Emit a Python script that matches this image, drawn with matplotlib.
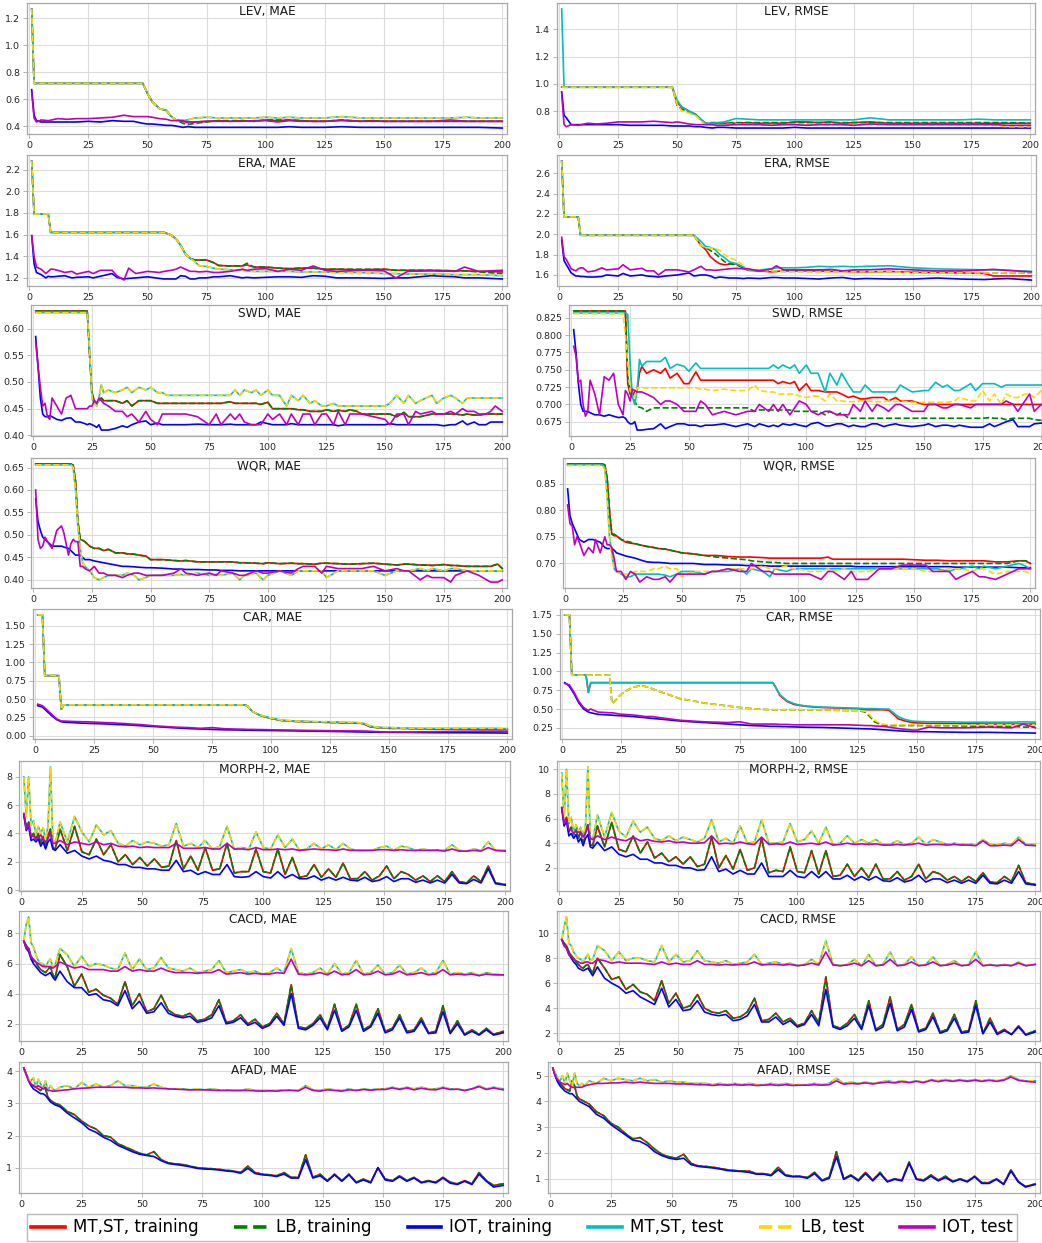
import matplotlib
matplotlib.use("Agg")
import matplotlib.pyplot as plt
from matplotlib.lines import Line2D
from matplotlib.ticker import MaxNLocator

lev_ep = [1, 2, 3, 5, 8, 12, 16, 20, 25, 30, 35, 40, 44, 48, 50, 52, 55, 58, 60, 62,
          65, 67, 70, 75, 80, 85, 90, 95, 100, 105, 110, 115, 120, 125, 132, 140, 145, 150, 160, 170,
          178, 185, 190, 200]
era_ep = [1, 2, 3, 5, 7, 8, 9, 10, 12, 15, 18, 20, 25, 27, 30, 35, 37, 40, 42, 45,
          50, 55, 57, 60, 62, 64, 66, 68, 70, 72, 75, 78, 80, 85, 90, 92, 95, 100, 105, 110,
          115, 120, 125, 130, 140, 150, 155, 160, 170, 180, 184, 190, 200]
swd_ep = [1, 2, 3, 4, 5, 6, 7, 8,
          10, 12, 14, 16, 18, 20, 22,
          23, 24, 25, 26, 27, 28, 29, 30,
          32, 35, 38, 40, 42, 45, 48, 50, 53, 55,
          57, 60, 65, 70, 75, 78, 80, 84, 86, 88,
          90, 93, 95, 97, 100, 102, 105, 108, 110, 113,
          115, 118, 120, 123, 125, 128, 130, 133, 135, 138,
          140, 145, 150, 152, 155, 158, 160, 163, 165, 170,
          172, 175, 178, 180, 183, 185, 188, 190, 193, 195,
          197, 200]
wqr_ep = [1, 2, 3, 4, 5, 6, 8, 10, 12, 13,
          15, 16, 17, 18, 19, 20, 21, 22, 24, 26,
          28, 30, 32, 35, 38, 40, 43, 45, 48, 50,
          55, 60, 63, 65, 70, 75, 78, 80, 85, 88,
          90, 95, 98, 100, 105, 110, 113, 115, 120, 123,
          125, 130, 135, 140, 145, 150, 155, 158, 160, 165,
          168, 170, 175, 178, 180, 185, 190, 195, 198, 200]
car_ep = [1, 2, 3, 4, 5, 7, 9, 10, 11, 12,
          15, 20, 21, 22, 25, 28, 30, 33, 35, 38,
          40, 45, 50, 55, 60, 65, 70, 75, 80, 85,
          88, 89, 90, 92, 95, 98, 100, 103, 105, 110,
          115, 120, 125, 128, 130, 132, 135, 138, 140, 142,
          145, 148, 150, 155, 160, 170, 180, 190, 195, 200]
face_ep = [1, 2, 3, 4, 5, 6, 7, 8, 9, 10, 11, 12, 13, 14,
           16, 19, 22, 25, 28, 31, 34, 37, 40, 43,
           46, 49, 52, 55, 58, 61, 64, 67, 70, 73,
           76, 79, 82, 85, 88, 91, 94, 97, 100, 103,
           106, 109, 112, 115, 118, 121, 124, 127, 130, 133,
           136, 139, 142, 145, 148, 151, 154, 157, 160, 163,
           166, 169, 172, 175, 178, 181, 184, 187, 190, 193,
           196, 200]

# ---------------- LEV ----------------
lev_mae_tr = [1.27, 0.717, 0.717, 0.717, 0.717, 0.717, 0.717, 0.717, 0.717, 0.717, 0.717, 0.717, 0.717, 0.717,
              0.64, 0.58, 0.53, 0.515, 0.47, 0.445,
              0.435, 0.425, 0.43, 0.435, 0.44, 0.435, 0.44, 0.435, 0.445, 0.44,
              0.445, 0.44, 0.435, 0.435, 0.445, 0.435, 0.44, 0.435, 0.435, 0.435,
              0.435, 0.435, 0.435, 0.435]
lev_mae_lb_tr = [1.27, 0.717, 0.717, 0.717, 0.717, 0.717, 0.717, 0.717, 0.717, 0.717, 0.717, 0.717, 0.717, 0.717,
                 0.64, 0.58, 0.53, 0.515, 0.47, 0.445,
                 0.42, 0.41, 0.42, 0.43, 0.44, 0.44, 0.44, 0.435, 0.445, 0.445,
                 0.445, 0.44, 0.435, 0.435, 0.445, 0.435, 0.44, 0.435, 0.435, 0.435,
                 0.435, 0.435, 0.435, 0.435]
lev_mae_te = [1.27, 0.717, 0.717, 0.717, 0.717, 0.717, 0.717, 0.717, 0.717, 0.717, 0.717, 0.717, 0.717, 0.717,
              0.64, 0.58, 0.53, 0.515, 0.47, 0.445,
              0.445, 0.445, 0.46, 0.465, 0.46, 0.46, 0.46, 0.46, 0.465, 0.46,
              0.465, 0.46, 0.46, 0.46, 0.47, 0.46, 0.46, 0.46, 0.46, 0.46,
              0.46, 0.465, 0.46, 0.46]
lev_mae_iot_tr = [0.67, 0.48, 0.44, 0.43, 0.43, 0.43, 0.43, 0.43, 0.435, 0.43,
                  0.44, 0.435, 0.435, 0.42, 0.415, 0.415, 0.41, 0.405, 0.405, 0.40,
                  0.39, 0.395, 0.39, 0.39, 0.39, 0.39, 0.39, 0.39, 0.39, 0.39,
                  0.395, 0.39, 0.39, 0.39, 0.395, 0.39, 0.39, 0.39, 0.39, 0.39,
                  0.39, 0.39, 0.39, 0.385]
lev_mae_iot_te = [0.65, 0.46, 0.43, 0.445, 0.44, 0.455, 0.45, 0.455, 0.455, 0.46,
                  0.465, 0.48, 0.47, 0.47, 0.47, 0.465, 0.455, 0.45, 0.44, 0.44,
                  0.44, 0.43, 0.43, 0.435, 0.435, 0.435, 0.435, 0.44, 0.44, 0.43,
                  0.44, 0.435, 0.435, 0.435, 0.44, 0.435, 0.435, 0.435, 0.435, 0.435,
                  0.445, 0.435, 0.435, 0.435]

lev_rmse_tr = [0.975, 0.975, 0.975, 0.975, 0.975, 0.975, 0.975, 0.975, 0.975, 0.975, 0.975, 0.975, 0.975, 0.975,
               0.86, 0.83, 0.80, 0.775, 0.74, 0.71,
               0.705, 0.71, 0.71, 0.71, 0.715, 0.71, 0.71, 0.71, 0.72, 0.72,
               0.715, 0.72, 0.71, 0.715, 0.72, 0.71, 0.71, 0.71, 0.71, 0.71,
               0.71, 0.71, 0.71, 0.71]
lev_rmse_lb_tr = [0.975, 0.975, 0.975, 0.975, 0.975, 0.975, 0.975, 0.975, 0.975, 0.975, 0.975, 0.975, 0.975, 0.975,
                  0.84, 0.815, 0.79, 0.77, 0.74, 0.71,
                  0.715, 0.715, 0.71, 0.715, 0.715, 0.715, 0.715, 0.715, 0.715, 0.715,
                  0.715, 0.715, 0.715, 0.715, 0.715, 0.715, 0.715, 0.715, 0.715, 0.715,
                  0.715, 0.715, 0.715, 0.71]
lev_rmse_te = [1.55, 0.975, 0.975, 0.975, 0.975, 0.975, 0.975, 0.975, 0.975, 0.975, 0.975, 0.975, 0.975, 0.975,
               0.88, 0.83, 0.80, 0.77, 0.74, 0.71,
               0.71, 0.715, 0.72, 0.745, 0.74, 0.735, 0.735, 0.735, 0.735, 0.735,
               0.735, 0.735, 0.735, 0.735, 0.75, 0.735, 0.735, 0.735, 0.735, 0.735,
               0.74, 0.735, 0.735, 0.735]
lev_rmse_lb_te = [0.975, 0.975, 0.975, 0.975, 0.975, 0.975, 0.975, 0.975, 0.975, 0.975, 0.975, 0.975, 0.975, 0.975,
                  0.85, 0.80, 0.785, 0.765, 0.73, 0.70,
                  0.70, 0.70, 0.70, 0.705, 0.70, 0.70, 0.70, 0.70, 0.70, 0.70,
                  0.70, 0.70, 0.70, 0.70, 0.70, 0.70, 0.70, 0.70, 0.70, 0.70,
                  0.70, 0.695, 0.685, 0.685]
lev_rmse_iot_tr = [0.94, 0.77, 0.75, 0.70, 0.70, 0.70, 0.70, 0.70, 0.70, 0.695,
                   0.695, 0.695, 0.695, 0.69, 0.69, 0.69, 0.69, 0.685, 0.685, 0.68,
                   0.675, 0.68, 0.68, 0.675, 0.675, 0.675, 0.675, 0.675, 0.68, 0.675,
                   0.675, 0.675, 0.675, 0.675, 0.675, 0.675, 0.675, 0.675, 0.675, 0.675,
                   0.675, 0.675, 0.675, 0.675]
lev_rmse_iot_te = [0.93, 0.70, 0.685, 0.70, 0.695, 0.71, 0.705, 0.71, 0.72, 0.72,
                   0.72, 0.725, 0.72, 0.715, 0.72, 0.715, 0.705, 0.70, 0.70, 0.70,
                   0.70, 0.695, 0.695, 0.70, 0.70, 0.70, 0.695, 0.70, 0.70, 0.695,
                   0.70, 0.70, 0.70, 0.695, 0.705, 0.70, 0.70, 0.70, 0.70, 0.70,
                   0.70, 0.70, 0.695, 0.695]

# ---------------- ERA ----------------
era_mae_tr = [2.28, 1.79, 1.79, 1.79, 1.79, 1.79, 1.62, 1.62, 1.62, 1.62,
              1.62, 1.62, 1.62, 1.62, 1.62, 1.62, 1.62, 1.62, 1.62, 1.62,
              1.62, 1.62, 1.62,
              1.595, 1.56, 1.50, 1.42, 1.38, 1.365, 1.365,
              1.365, 1.34, 1.315, 1.31, 1.31, 1.32, 1.30, 1.30, 1.29, 1.285,
              1.29, 1.29, 1.28, 1.28, 1.275, 1.28, 1.27, 1.27, 1.27, 1.265,
              1.265, 1.26, 1.255]
era_mae_lb_tr = [2.28, 1.79, 1.79, 1.79, 1.79, 1.79, 1.62, 1.62, 1.62, 1.62,
                 1.62, 1.62, 1.62, 1.62, 1.62, 1.62, 1.62, 1.62, 1.62, 1.62,
                 1.62, 1.62, 1.62,
                 1.595, 1.56, 1.50, 1.42, 1.38, 1.365, 1.365,
                 1.365, 1.34, 1.315, 1.31, 1.31, 1.335, 1.30, 1.30, 1.29, 1.285,
                 1.29, 1.29, 1.28, 1.28, 1.28, 1.28, 1.27, 1.27, 1.27, 1.265,
                 1.265, 1.255, 1.24]
era_mae_te = [2.28, 1.79, 1.79, 1.79, 1.79, 1.79, 1.62, 1.62, 1.62, 1.62,
              1.62, 1.62, 1.62, 1.62, 1.62, 1.62, 1.62, 1.62, 1.62, 1.62,
              1.62, 1.62, 1.62,
              1.595, 1.56, 1.50, 1.42, 1.38, 1.35, 1.31,
              1.305, 1.29, 1.28, 1.275, 1.27, 1.265, 1.26, 1.26, 1.26, 1.26,
              1.255, 1.255, 1.255, 1.25, 1.25, 1.24, 1.24, 1.235, 1.235, 1.23,
              1.23, 1.23, 1.22]
era_mae_iot_tr = [1.59, 1.33, 1.25, 1.23, 1.20, 1.215, 1.21, 1.21, 1.215, 1.22,
                  1.20, 1.205, 1.21, 1.20, 1.215, 1.24, 1.205, 1.19, 1.195, 1.20,
                  1.21, 1.195, 1.19,
                  1.19, 1.19, 1.22, 1.215, 1.19, 1.19, 1.20,
                  1.20, 1.21, 1.21, 1.22, 1.20, 1.205, 1.20, 1.205, 1.21, 1.21,
                  1.205, 1.22, 1.215, 1.20, 1.20, 1.195, 1.20, 1.20, 1.22, 1.21,
                  1.20, 1.20, 1.19]
era_mae_iot_te = [1.59, 1.40, 1.30, 1.28, 1.24, 1.26, 1.28, 1.28, 1.27, 1.25,
                  1.26, 1.235, 1.26, 1.24, 1.27, 1.27, 1.22, 1.18, 1.29, 1.24,
                  1.26, 1.25, 1.26,
                  1.27, 1.28, 1.30, 1.28, 1.26, 1.26, 1.255,
                  1.26, 1.25, 1.25, 1.26, 1.28, 1.27, 1.28, 1.285, 1.26, 1.28,
                  1.27, 1.31, 1.27, 1.26, 1.27, 1.265, 1.20, 1.26, 1.265, 1.26,
                  1.30, 1.26, 1.27]

era_rmse_tr = [2.72, 2.17, 2.17, 2.17, 2.17, 2.17, 1.99, 1.99, 1.99, 1.99,
               1.99, 1.99, 1.99, 1.99, 1.99, 1.99, 1.99, 1.99, 1.99, 1.99,
               1.99, 1.99, 1.99,
               1.89, 1.85, 1.78, 1.74, 1.71, 1.70, 1.705,
               1.71, 1.67, 1.645, 1.64, 1.63, 1.635, 1.64, 1.64, 1.64, 1.64,
               1.635, 1.635, 1.63, 1.63, 1.635, 1.625, 1.625, 1.625, 1.62, 1.615,
               1.59, 1.59, 1.59]
era_rmse_lb_tr = [2.72, 2.17, 2.17, 2.17, 2.17, 2.17, 1.99, 1.99, 1.99, 1.99,
                  1.99, 1.99, 1.99, 1.99, 1.99, 1.99, 1.99, 1.99, 1.99, 1.99,
                  1.99, 1.99, 1.99,
                  1.89, 1.87, 1.84, 1.81, 1.77, 1.73, 1.71,
                  1.70, 1.67, 1.65, 1.64, 1.64, 1.635, 1.635, 1.635, 1.635, 1.635,
                  1.635, 1.635, 1.635, 1.63, 1.63, 1.63, 1.625, 1.625, 1.625, 1.62,
                  1.62, 1.62, 1.62]
era_rmse_te = [2.72, 2.17, 2.17, 2.17, 2.17, 2.17, 1.99, 1.99, 1.99, 1.99,
               1.99, 1.99, 1.99, 1.99, 1.99, 1.99, 1.99, 1.99, 1.99, 1.99,
               1.99, 1.99, 1.99,
               1.93, 1.88, 1.87, 1.85, 1.80, 1.77, 1.73,
               1.71, 1.68, 1.65, 1.65, 1.66, 1.67, 1.67, 1.67, 1.675, 1.685,
               1.68, 1.685, 1.68, 1.685, 1.69, 1.67, 1.665, 1.66, 1.655, 1.65,
               1.65, 1.645, 1.635]
era_rmse_lb_te = [2.72, 2.17, 2.17, 2.17, 2.17, 2.17, 1.99, 1.99, 1.99, 1.99,
                  1.99, 1.99, 1.99, 1.99, 1.99, 1.99, 1.99, 1.99, 1.99, 1.99,
                  1.99, 1.99, 1.99,
                  1.89, 1.87, 1.865, 1.86, 1.84, 1.80, 1.77,
                  1.745, 1.69, 1.655, 1.645, 1.64, 1.64, 1.635, 1.635, 1.63, 1.63,
                  1.63, 1.63, 1.63, 1.63, 1.63, 1.625, 1.625, 1.62, 1.62, 1.62,
                  1.62, 1.62, 1.62]
era_rmse_iot_tr = [1.94, 1.74, 1.70, 1.62, 1.59, 1.59, 1.585, 1.585, 1.58, 1.58,
                   1.585, 1.60, 1.59, 1.615, 1.59, 1.60, 1.59, 1.585, 1.58, 1.59,
                   1.60, 1.62, 1.59,
                   1.60, 1.60, 1.59, 1.57, 1.58, 1.575, 1.57,
                   1.57, 1.565, 1.57, 1.565, 1.575, 1.575, 1.57, 1.57, 1.565, 1.56,
                   1.57, 1.575, 1.56, 1.565, 1.56, 1.56, 1.565, 1.57, 1.56, 1.555,
                   1.56, 1.565, 1.55]
era_rmse_iot_te = [1.97, 1.78, 1.75, 1.66, 1.64, 1.66, 1.67, 1.67, 1.63, 1.64,
                   1.67, 1.65, 1.66, 1.70, 1.65, 1.665, 1.64, 1.64, 1.60, 1.65,
                   1.65, 1.63, 1.65,
                   1.685, 1.65, 1.65, 1.645, 1.65, 1.655, 1.66,
                   1.665, 1.66, 1.66, 1.64, 1.66, 1.69, 1.65, 1.65, 1.65, 1.65,
                   1.655, 1.64, 1.65, 1.65, 1.66, 1.65, 1.645, 1.64, 1.64, 1.65,
                   1.655, 1.645, 1.63]

# ---------------- SWD ----------------
swd_mae_tr = [0.633, 0.633, 0.633, 0.633, 0.633, 0.633, 0.633, 0.633,
              0.633, 0.633, 0.633, 0.633, 0.633, 0.633, 0.633,
              0.633, 0.55, 0.48, 0.465, 0.46, 0.465, 0.47, 0.465,
              0.465, 0.465, 0.46, 0.465, 0.455, 0.465, 0.465, 0.465, 0.46, 0.46,
              0.46, 0.46, 0.46, 0.46, 0.46, 0.46, 0.46, 0.463, 0.46, 0.46,
              0.46, 0.46, 0.46, 0.458, 0.462, 0.45, 0.45, 0.45, 0.45, 0.448,
              0.448, 0.445, 0.445, 0.445, 0.448, 0.445, 0.447, 0.445, 0.448, 0.445,
              0.44, 0.44, 0.44, 0.44, 0.435, 0.443, 0.435, 0.435, 0.435, 0.44,
              0.44, 0.44, 0.44, 0.44, 0.438, 0.44, 0.438, 0.438, 0.44, 0.44,
              0.44, 0.44]
swd_mae_te = [0.630, 0.630, 0.630, 0.630, 0.630, 0.630, 0.630, 0.630,
              0.630, 0.630, 0.630, 0.630, 0.630, 0.630, 0.630,
              0.630, 0.56, 0.47, 0.46, 0.455, 0.47, 0.495, 0.48,
              0.485, 0.48, 0.485, 0.49, 0.48, 0.49, 0.485, 0.49, 0.48, 0.48,
              0.475, 0.475, 0.475, 0.475, 0.475, 0.475, 0.475, 0.475, 0.485, 0.475,
              0.485, 0.48, 0.485, 0.475, 0.485, 0.475, 0.475, 0.455, 0.475, 0.465,
              0.475, 0.46, 0.465, 0.455, 0.455, 0.46, 0.455, 0.455, 0.455, 0.455,
              0.455, 0.455, 0.455, 0.46, 0.475, 0.46, 0.475, 0.46, 0.465, 0.475,
              0.46, 0.47, 0.475, 0.47, 0.46, 0.47, 0.47, 0.47, 0.47, 0.47,
              0.47, 0.47]
swd_mae_iot_tr = [0.585, 0.53, 0.47, 0.44, 0.435, 0.435, 0.437, 0.435,
                  0.43, 0.428, 0.432, 0.433, 0.425, 0.425, 0.422,
                  0.42, 0.422, 0.42, 0.418, 0.415, 0.42, 0.41, 0.41,
                  0.41, 0.413, 0.418, 0.415, 0.42, 0.425, 0.427, 0.42, 0.423, 0.42,
                  0.42, 0.42, 0.42, 0.421, 0.42, 0.42, 0.42, 0.421, 0.42, 0.42,
                  0.42, 0.42, 0.42, 0.425, 0.422, 0.42, 0.42, 0.42, 0.422, 0.42,
                  0.42, 0.42, 0.42, 0.42, 0.42, 0.42, 0.418, 0.42, 0.42, 0.42,
                  0.42, 0.42, 0.42, 0.422, 0.42, 0.42, 0.42, 0.42, 0.42, 0.42,
                  0.42, 0.418, 0.42, 0.42, 0.427, 0.42, 0.425, 0.42, 0.42, 0.425,
                  0.425, 0.425]
swd_mae_iot_te = [0.575, 0.53, 0.49, 0.455, 0.46, 0.435, 0.43, 0.47,
                  0.455, 0.44, 0.47, 0.475, 0.45, 0.45, 0.45,
                  0.45, 0.455, 0.455, 0.465, 0.46, 0.47, 0.465, 0.46,
                  0.455, 0.445, 0.445, 0.435, 0.44, 0.425, 0.445, 0.43, 0.42, 0.44,
                  0.44, 0.44, 0.44, 0.435, 0.42, 0.44, 0.42, 0.44, 0.43, 0.44,
                  0.425, 0.42, 0.42, 0.42, 0.44, 0.43, 0.44, 0.42, 0.44, 0.42,
                  0.44, 0.44, 0.42, 0.44, 0.44, 0.42, 0.445, 0.42, 0.44, 0.44,
                  0.44, 0.435, 0.43, 0.42, 0.44, 0.44, 0.42, 0.445, 0.44, 0.445,
                  0.44, 0.44, 0.445, 0.44, 0.45, 0.445, 0.445, 0.44, 0.44, 0.445,
                  0.455, 0.445]

swd_rmse_tr = [0.835, 0.835, 0.835, 0.835, 0.835, 0.835, 0.835, 0.835,
               0.835, 0.835, 0.835, 0.835, 0.835, 0.835, 0.835,
               0.835, 0.73, 0.715, 0.71, 0.72, 0.72, 0.745, 0.755,
               0.745, 0.75, 0.745, 0.752, 0.738, 0.745, 0.73, 0.73, 0.747, 0.735,
               0.735, 0.735, 0.735, 0.735, 0.735, 0.735, 0.735, 0.735, 0.735, 0.73,
               0.733, 0.73, 0.733, 0.72, 0.73, 0.72, 0.72, 0.718, 0.718, 0.718,
               0.715, 0.71, 0.712, 0.708, 0.708, 0.71, 0.71, 0.71, 0.705, 0.71,
               0.705, 0.705, 0.70, 0.70, 0.70, 0.70, 0.70, 0.70, 0.70, 0.70,
               0.70, 0.70, 0.70, 0.70, 0.70, 0.70, 0.70, 0.70, 0.70, 0.70,
               0.70, 0.70]
swd_rmse_lb_tr = [0.835, 0.835, 0.835, 0.835, 0.835, 0.835, 0.835, 0.835,
                  0.835, 0.835, 0.835, 0.835, 0.835, 0.835, 0.835,
                  0.835, 0.74, 0.72, 0.71, 0.705, 0.697, 0.696, 0.695,
                  0.69, 0.695, 0.695, 0.695, 0.695, 0.695, 0.695, 0.695, 0.695, 0.695,
                  0.695, 0.695, 0.695, 0.695, 0.695, 0.69, 0.692, 0.692, 0.692, 0.692,
                  0.692, 0.692, 0.69, 0.69, 0.69, 0.69, 0.69, 0.685, 0.69, 0.685,
                  0.688, 0.68, 0.68, 0.68, 0.68, 0.68, 0.68, 0.68, 0.68, 0.68,
                  0.68, 0.68, 0.68, 0.68, 0.68, 0.68, 0.68, 0.68, 0.68, 0.68,
                  0.68, 0.68, 0.681, 0.68, 0.68, 0.678, 0.68, 0.68, 0.68, 0.68,
                  0.678, 0.677]
swd_rmse_te = [0.832, 0.832, 0.832, 0.832, 0.832, 0.832, 0.832, 0.832,
               0.832, 0.832, 0.832, 0.832, 0.832, 0.832, 0.832,
               0.832, 0.83, 0.76, 0.71, 0.70, 0.72, 0.765, 0.755,
               0.762, 0.762, 0.762, 0.768, 0.752, 0.758, 0.755, 0.748, 0.76, 0.752,
               0.752, 0.752, 0.752, 0.752, 0.752, 0.752, 0.752, 0.752, 0.757, 0.752,
               0.757, 0.752, 0.757, 0.745, 0.757, 0.745, 0.745, 0.718, 0.745, 0.728,
               0.745, 0.728, 0.718, 0.718, 0.728, 0.718, 0.718, 0.718, 0.718, 0.718,
               0.728, 0.718, 0.72, 0.72, 0.732, 0.725, 0.728, 0.72, 0.72, 0.73,
               0.72, 0.73, 0.73, 0.73, 0.725, 0.728, 0.728, 0.728, 0.728, 0.728,
               0.728, 0.728]
swd_rmse_lb_te = [0.831, 0.831, 0.831, 0.831, 0.831, 0.831, 0.831, 0.831,
                  0.831, 0.831, 0.831, 0.831, 0.831, 0.831, 0.831,
                  0.80, 0.76, 0.72, 0.715, 0.71, 0.724, 0.724, 0.724,
                  0.724, 0.724, 0.724, 0.724, 0.724, 0.724, 0.724, 0.724, 0.724, 0.722,
                  0.722, 0.72, 0.722, 0.72, 0.72, 0.728, 0.72, 0.718, 0.718, 0.715,
                  0.715, 0.715, 0.715, 0.712, 0.71, 0.712, 0.712, 0.705, 0.715, 0.705,
                  0.705, 0.704, 0.704, 0.705, 0.705, 0.704, 0.704, 0.704, 0.705, 0.704,
                  0.705, 0.703, 0.703, 0.703, 0.703, 0.703, 0.703, 0.705, 0.71, 0.705,
                  0.705, 0.72, 0.705, 0.715, 0.70, 0.715, 0.71, 0.71, 0.715, 0.715,
                  0.71, 0.72]
swd_rmse_iot_tr = [0.808, 0.775, 0.73, 0.70, 0.69, 0.69, 0.69, 0.688,
                   0.685, 0.685, 0.683, 0.685, 0.683, 0.681, 0.682,
                   0.68, 0.675, 0.672, 0.672, 0.675, 0.663, 0.663, 0.663,
                   0.664, 0.665, 0.672, 0.665, 0.668, 0.672, 0.672, 0.67, 0.67, 0.668,
                   0.67, 0.67, 0.672, 0.668, 0.672, 0.668, 0.672, 0.668, 0.67, 0.668,
                   0.672, 0.67, 0.672, 0.67, 0.668, 0.672, 0.674, 0.669, 0.669, 0.672,
                   0.672, 0.668, 0.67, 0.668, 0.668, 0.672, 0.672, 0.668, 0.67, 0.672,
                   0.67, 0.668, 0.67, 0.672, 0.668, 0.67, 0.67, 0.668, 0.67, 0.667,
                   0.667, 0.667, 0.672, 0.668, 0.672, 0.675, 0.678, 0.668, 0.668, 0.668,
                   0.672, 0.673]
swd_rmse_iot_te = [0.784, 0.77, 0.732, 0.735, 0.70, 0.683, 0.69, 0.735,
                   0.715, 0.685, 0.74, 0.735, 0.745, 0.70, 0.685,
                   0.72, 0.715, 0.705, 0.722, 0.72, 0.718, 0.718, 0.718,
                   0.715, 0.71, 0.70, 0.705, 0.705, 0.70, 0.69, 0.69, 0.69, 0.705,
                   0.70, 0.685, 0.69, 0.685, 0.69, 0.69, 0.70, 0.69, 0.70, 0.69,
                   0.70, 0.685, 0.695, 0.705, 0.70, 0.69, 0.685, 0.69, 0.69, 0.685,
                   0.685, 0.685, 0.70, 0.69, 0.705, 0.69, 0.70, 0.695, 0.69, 0.70,
                   0.70, 0.69, 0.69, 0.70, 0.70, 0.695, 0.695, 0.70, 0.70, 0.695,
                   0.70, 0.70, 0.70, 0.70, 0.70, 0.705, 0.70, 0.69, 0.705, 0.715,
                   0.69, 0.70]

# ---------------- WQR ----------------
wqr_mae_tr = [0.658, 0.658, 0.658, 0.658, 0.658, 0.658, 0.658, 0.658, 0.658, 0.658,
              0.658, 0.658, 0.655, 0.62, 0.53, 0.49, 0.488, 0.485, 0.475, 0.47,
              0.47, 0.465, 0.468, 0.46, 0.46, 0.458, 0.457, 0.455, 0.453, 0.445,
              0.445, 0.443, 0.442, 0.443, 0.44, 0.44, 0.44, 0.44, 0.44, 0.438,
              0.438, 0.437, 0.436, 0.438, 0.436, 0.437, 0.436, 0.436, 0.435, 0.437,
              0.437, 0.436, 0.435, 0.436, 0.437, 0.435, 0.433, 0.435, 0.435, 0.433,
              0.433, 0.432, 0.434, 0.432, 0.432, 0.43, 0.43, 0.43, 0.435, 0.425]
wqr_mae_te = [0.656, 0.656, 0.656, 0.656, 0.656, 0.656, 0.656, 0.656, 0.656, 0.656,
              0.656, 0.656, 0.65, 0.60, 0.52, 0.47, 0.44, 0.43, 0.42, 0.405,
              0.40, 0.405, 0.41, 0.41, 0.41, 0.415, 0.41, 0.40, 0.405, 0.41,
              0.41, 0.41, 0.412, 0.41, 0.415, 0.41, 0.412, 0.41, 0.415, 0.40,
              0.41, 0.415, 0.40, 0.41, 0.42, 0.41, 0.42, 0.42, 0.42, 0.42,
              0.405, 0.42, 0.42, 0.42, 0.42, 0.41, 0.42, 0.42, 0.42, 0.425,
              0.42, 0.425, 0.42, 0.425, 0.425, 0.42, 0.42, 0.42, 0.42, 0.42]
wqr_mae_iot_tr = [0.58, 0.53, 0.51, 0.495, 0.49, 0.485, 0.475, 0.475, 0.475, 0.473,
                  0.47, 0.465, 0.46, 0.455, 0.455, 0.455, 0.45, 0.445, 0.445, 0.442,
                  0.44, 0.438, 0.436, 0.433, 0.43, 0.43, 0.429, 0.428, 0.427, 0.427,
                  0.426, 0.424, 0.424, 0.423, 0.423, 0.422, 0.422, 0.421, 0.421, 0.42,
                  0.42, 0.42, 0.42, 0.42, 0.42, 0.42, 0.42, 0.42, 0.42, 0.42,
                  0.42, 0.42, 0.42, 0.42, 0.42, 0.42, 0.42, 0.42, 0.42, 0.42,
                  0.42, 0.42, 0.42, 0.42, 0.42, 0.42, 0.42, 0.42, 0.42, 0.42]
wqr_mae_iot_te = [0.60, 0.49, 0.47, 0.475, 0.495, 0.485, 0.47, 0.51, 0.52, 0.505,
                  0.455, 0.48, 0.49, 0.485, 0.485, 0.43, 0.43, 0.425, 0.42, 0.43,
                  0.415, 0.415, 0.41, 0.41, 0.405, 0.41, 0.415, 0.415, 0.41, 0.41,
                  0.41, 0.415, 0.425, 0.415, 0.41, 0.415, 0.41, 0.42, 0.415, 0.41,
                  0.41, 0.42, 0.415, 0.415, 0.42, 0.415, 0.425, 0.43, 0.43, 0.415,
                  0.43, 0.425, 0.425, 0.425, 0.43, 0.42, 0.425, 0.42, 0.42, 0.40,
                  0.41, 0.405, 0.405, 0.395, 0.41, 0.42, 0.41, 0.395, 0.395, 0.40]

wqr_rmse_tr = [0.887, 0.887, 0.887, 0.887, 0.887, 0.887, 0.887, 0.887, 0.887, 0.887,
               0.887, 0.887, 0.885, 0.86, 0.80, 0.755, 0.752, 0.752, 0.745, 0.74,
               0.738, 0.737, 0.735, 0.732, 0.73, 0.728, 0.727, 0.725, 0.722, 0.72,
               0.718, 0.715, 0.715, 0.715, 0.713, 0.712, 0.712, 0.712, 0.711, 0.71,
               0.71, 0.71, 0.71, 0.71, 0.71, 0.71, 0.712, 0.708, 0.708, 0.708,
               0.708, 0.708, 0.708, 0.708, 0.708, 0.707, 0.706, 0.706, 0.706, 0.705,
               0.705, 0.705, 0.705, 0.705, 0.705, 0.703, 0.703, 0.705, 0.705, 0.70]
wqr_rmse_lb_tr = [0.887, 0.887, 0.887, 0.887, 0.887, 0.887, 0.887, 0.887, 0.887, 0.887,
                  0.887, 0.887, 0.885, 0.86, 0.80, 0.755, 0.755, 0.752, 0.745, 0.742,
                  0.74, 0.737, 0.735, 0.732, 0.73, 0.728, 0.727, 0.725, 0.722, 0.72,
                  0.718, 0.715, 0.713, 0.712, 0.71, 0.708, 0.707, 0.705, 0.703, 0.702,
                  0.702, 0.70, 0.70, 0.70, 0.70, 0.70, 0.70, 0.70, 0.70, 0.70,
                  0.70, 0.70, 0.70, 0.70, 0.70, 0.70, 0.70, 0.70, 0.70, 0.70,
                  0.70, 0.70, 0.70, 0.70, 0.70, 0.70, 0.70, 0.705, 0.705, 0.70]
wqr_rmse_te = [0.885, 0.885, 0.885, 0.885, 0.885, 0.885, 0.885, 0.885, 0.885, 0.885,
               0.885, 0.885, 0.88, 0.83, 0.75, 0.72, 0.69, 0.685, 0.68, 0.675,
               0.675, 0.68, 0.68, 0.68, 0.68, 0.68, 0.678, 0.675, 0.68, 0.685,
               0.685, 0.68, 0.685, 0.685, 0.685, 0.69, 0.68, 0.69, 0.685, 0.675,
               0.69, 0.685, 0.69, 0.69, 0.69, 0.69, 0.69, 0.69, 0.69, 0.69,
               0.69, 0.69, 0.69, 0.69, 0.69, 0.69, 0.69, 0.69, 0.69, 0.685,
               0.69, 0.69, 0.695, 0.69, 0.695, 0.69, 0.695, 0.70, 0.695, 0.69]
wqr_rmse_lb_te = [0.884, 0.884, 0.884, 0.884, 0.884, 0.884, 0.884, 0.884, 0.884, 0.884,
                  0.884, 0.884, 0.875, 0.82, 0.75, 0.71, 0.69, 0.685, 0.68, 0.68,
                  0.68, 0.685, 0.685, 0.685, 0.69, 0.69, 0.695, 0.69, 0.69, 0.675,
                  0.685, 0.685, 0.685, 0.685, 0.69, 0.69, 0.69, 0.69, 0.695, 0.69,
                  0.69, 0.695, 0.69, 0.69, 0.685, 0.685, 0.69, 0.685, 0.69, 0.685,
                  0.685, 0.685, 0.69, 0.69, 0.69, 0.69, 0.685, 0.685, 0.685, 0.69,
                  0.69, 0.69, 0.685, 0.69, 0.69, 0.68, 0.685, 0.685, 0.685, 0.68]
wqr_rmse_iot_tr = [0.84, 0.79, 0.775, 0.765, 0.755, 0.745, 0.74, 0.745, 0.745, 0.743,
                   0.74, 0.735, 0.73, 0.728, 0.728, 0.728, 0.725, 0.72, 0.717, 0.714,
                   0.712, 0.71, 0.707, 0.703, 0.702, 0.702, 0.701, 0.70, 0.70, 0.70,
                   0.70, 0.698, 0.698, 0.698, 0.697, 0.697, 0.696, 0.696, 0.696, 0.695,
                   0.695, 0.695, 0.695, 0.695, 0.695, 0.695, 0.695, 0.695, 0.695, 0.695,
                   0.694, 0.694, 0.694, 0.694, 0.694, 0.694, 0.694, 0.694, 0.694, 0.694,
                   0.693, 0.693, 0.693, 0.693, 0.693, 0.693, 0.693, 0.692, 0.692, 0.692]
wqr_rmse_iot_te = [0.81, 0.775, 0.77, 0.735, 0.75, 0.74, 0.715, 0.73, 0.72, 0.745,
                   0.72, 0.735, 0.75, 0.735, 0.735, 0.73, 0.71, 0.685, 0.685, 0.67,
                   0.685, 0.68, 0.665, 0.675, 0.67, 0.67, 0.675, 0.665, 0.68, 0.68,
                   0.68, 0.68, 0.685, 0.685, 0.69, 0.685, 0.685, 0.70, 0.685, 0.685,
                   0.68, 0.68, 0.68, 0.68, 0.68, 0.67, 0.685, 0.685, 0.67, 0.685,
                   0.67, 0.67, 0.69, 0.69, 0.697, 0.697, 0.697, 0.685, 0.685, 0.685,
                   0.67, 0.675, 0.685, 0.675, 0.675, 0.67, 0.68, 0.69, 0.69, 0.69]

# ---------------- CAR ----------------
car_mae_tr = [1.65, 1.65, 1.65, 0.82, 0.82, 0.82, 0.82, 0.82, 0.36, 0.42,
              0.42, 0.42, 0.42, 0.42, 0.42, 0.42, 0.42, 0.42, 0.42, 0.42,
              0.42, 0.42, 0.42, 0.42, 0.42, 0.42, 0.42, 0.42, 0.42, 0.42,
              0.42, 0.42, 0.40, 0.33, 0.28, 0.25, 0.235, 0.215, 0.205, 0.195,
              0.19, 0.185, 0.18, 0.18, 0.175, 0.175, 0.17, 0.17, 0.15, 0.12,
              0.11, 0.105, 0.10, 0.10, 0.095, 0.09, 0.09, 0.085, 0.085, 0.085]
car_mae_te = [1.65, 1.65, 1.65, 0.82, 0.82, 0.82, 0.82, 0.82, 0.36, 0.42,
              0.42, 0.42, 0.42, 0.42, 0.42, 0.42, 0.42, 0.42, 0.42, 0.42,
              0.42, 0.42, 0.42, 0.42, 0.42, 0.42, 0.42, 0.42, 0.42, 0.42,
              0.42, 0.42, 0.40, 0.33, 0.285, 0.255, 0.24, 0.22, 0.21, 0.20,
              0.195, 0.19, 0.19, 0.185, 0.185, 0.18, 0.18, 0.175, 0.16, 0.13,
              0.115, 0.11, 0.11, 0.105, 0.10, 0.10, 0.10, 0.10, 0.10, 0.095]
car_mae_iot_tr = [0.41, 0.40, 0.39, 0.36, 0.33, 0.27, 0.22, 0.205, 0.19, 0.185,
                  0.18, 0.17, 0.17, 0.168, 0.165, 0.162, 0.16, 0.155, 0.152, 0.148,
                  0.145, 0.135, 0.125, 0.115, 0.105, 0.097, 0.09, 0.085, 0.08, 0.078,
                  0.076, 0.075, 0.075, 0.074, 0.072, 0.07, 0.07, 0.068, 0.067, 0.065,
                  0.062, 0.06, 0.058, 0.056, 0.055, 0.054, 0.052, 0.05, 0.05, 0.048,
                  0.047, 0.046, 0.045, 0.044, 0.043, 0.04, 0.04, 0.038, 0.037, 0.035]
car_mae_iot_te = [0.43, 0.42, 0.41, 0.38, 0.35, 0.29, 0.23, 0.215, 0.20, 0.20,
                  0.195, 0.19, 0.19, 0.19, 0.185, 0.18, 0.178, 0.175, 0.17, 0.165,
                  0.16, 0.15, 0.135, 0.125, 0.115, 0.11, 0.10, 0.11, 0.095, 0.09,
                  0.088, 0.087, 0.085, 0.085, 0.083, 0.082, 0.08, 0.078, 0.078, 0.075,
                  0.072, 0.07, 0.068, 0.067, 0.066, 0.065, 0.065, 0.064, 0.063, 0.06,
                  0.055, 0.05, 0.05, 0.05, 0.05, 0.055, 0.06, 0.06, 0.06, 0.06]

car_rmse_tr = [1.75, 1.75, 1.75, 0.95, 0.95, 0.95, 0.95, 0.95, 0.72, 0.85,
               0.85, 0.85, 0.85, 0.85, 0.85, 0.85, 0.85, 0.85, 0.85, 0.85,
               0.85, 0.85, 0.85, 0.85, 0.85, 0.85, 0.85, 0.85, 0.85, 0.85,
               0.85, 0.85, 0.80, 0.68, 0.60, 0.56, 0.55, 0.535, 0.53, 0.52,
               0.515, 0.51, 0.505, 0.49, 0.49, 0.49, 0.49, 0.485, 0.43, 0.37,
               0.34, 0.32, 0.315, 0.31, 0.31, 0.305, 0.30, 0.30, 0.30, 0.30]
car_rmse_te = [1.75, 1.75, 1.75, 0.95, 0.95, 0.95, 0.95, 0.95, 0.72, 0.85,
               0.85, 0.85, 0.85, 0.85, 0.85, 0.85, 0.85, 0.85, 0.85, 0.85,
               0.85, 0.85, 0.85, 0.85, 0.85, 0.85, 0.85, 0.85, 0.85, 0.85,
               0.85, 0.85, 0.80, 0.69, 0.61, 0.57, 0.555, 0.54, 0.535, 0.525,
               0.52, 0.515, 0.51, 0.505, 0.505, 0.505, 0.50, 0.50, 0.45, 0.40,
               0.36, 0.34, 0.335, 0.33, 0.33, 0.325, 0.325, 0.325, 0.33, 0.325]
car_rmse_lb_tr = [1.75, 1.75, 1.75, 0.95, 0.95, 0.95, 0.95, 0.95, 0.95, 0.95,
                  0.95, 0.95, 0.57, 0.60, 0.70, 0.76, 0.79, 0.81, 0.80, 0.77,
                  0.745, 0.69, 0.635, 0.61, 0.58, 0.56, 0.54, 0.52, 0.505, 0.495,
                  0.49, 0.49, 0.49, 0.49, 0.49, 0.49, 0.49, 0.488, 0.487, 0.485,
                  0.483, 0.48, 0.48, 0.46, 0.40, 0.33, 0.29, 0.28, 0.28, 0.28,
                  0.28, 0.28, 0.28, 0.28, 0.28, 0.275, 0.27, 0.27, 0.26, 0.26]
car_rmse_lb_te = [1.75, 1.75, 1.75, 0.95, 0.95, 0.95, 0.95, 0.95, 0.95, 0.95,
                  0.95, 0.95, 0.57, 0.60, 0.70, 0.76, 0.79, 0.81, 0.80, 0.77,
                  0.745, 0.69, 0.635, 0.61, 0.58, 0.56, 0.54, 0.52, 0.505, 0.495,
                  0.49, 0.49, 0.49, 0.49, 0.49, 0.49, 0.49, 0.49, 0.488, 0.487,
                  0.485, 0.482, 0.48, 0.47, 0.42, 0.35, 0.30, 0.29, 0.29, 0.29,
                  0.29, 0.29, 0.29, 0.29, 0.29, 0.29, 0.29, 0.29, 0.29, 0.29]
car_rmse_iot_tr = [0.85, 0.83, 0.80, 0.75, 0.70, 0.58, 0.50, 0.48, 0.46, 0.45,
                   0.43, 0.42, 0.418, 0.415, 0.41, 0.405, 0.40, 0.39, 0.385, 0.375,
                   0.37, 0.355, 0.34, 0.33, 0.32, 0.31, 0.30, 0.29, 0.28, 0.275,
                   0.27, 0.27, 0.27, 0.268, 0.265, 0.262, 0.26, 0.258, 0.257, 0.255,
                   0.25, 0.245, 0.24, 0.237, 0.235, 0.232, 0.225, 0.22, 0.215, 0.21,
                   0.205, 0.20, 0.20, 0.198, 0.195, 0.19, 0.19, 0.185, 0.183, 0.18]
car_rmse_iot_te = [0.84, 0.83, 0.82, 0.77, 0.72, 0.60, 0.52, 0.50, 0.48, 0.50,
                   0.46, 0.45, 0.45, 0.445, 0.43, 0.425, 0.42, 0.41, 0.40, 0.40,
                   0.39, 0.37, 0.35, 0.34, 0.33, 0.325, 0.32, 0.33, 0.30, 0.30,
                   0.30, 0.30, 0.30, 0.295, 0.295, 0.29, 0.29, 0.29, 0.29, 0.29,
                   0.29, 0.29, 0.285, 0.28, 0.28, 0.275, 0.27, 0.26, 0.25, 0.24,
                   0.23, 0.22, 0.22, 0.26, 0.25, 0.25, 0.26, 0.25, 0.30, 0.25]

# ---------------- MORPH-2 ----------------
morph_mae_tr = [5.4, 4.5, 4.8, 3.7, 4.0, 3.6, 4.0, 3.3, 3.8, 3.0, 3.9, 4.3, 3.0, 2.9,
                4.3, 2.8, 4.5, 2.7, 2.5, 3.6, 2.5, 3.2, 2.0, 2.5,
                1.8, 2.3, 1.7, 2.2, 1.6, 1.7, 3.5, 1.5, 2.4, 1.4,
                3.0, 1.4, 1.5, 3.3, 1.2, 1.3, 1.3, 2.9, 1.3, 1.2,
                2.9, 1.1, 2.3, 0.9, 1.0, 1.8, 0.9, 1.5, 0.9, 1.9,
                0.8, 0.8, 1.3, 0.7, 1.0, 1.7, 0.8, 1.3, 1.1, 0.7,
                1.0, 0.6, 1.0, 0.6, 1.3, 0.6, 0.5, 1.0, 0.6, 1.7,
                0.5, 0.4]
morph_mae_iot_tr = [5.3, 4.2, 4.5, 3.5, 3.6, 3.4, 3.6, 3.1, 3.4, 2.9, 3.4, 3.6, 2.9, 2.8,
                    3.2, 2.6, 2.8, 2.4, 2.2, 2.4, 2.1, 2.0, 1.8, 1.8,
                    1.6, 1.6, 1.5, 1.5, 1.4, 1.4, 2.1, 1.3, 1.4, 1.1,
                    1.3, 1.1, 1.1, 1.8, 0.95, 0.9, 0.95, 1.3, 0.95, 0.85,
                    1.3, 0.85, 1.1, 0.8, 0.8, 1.0, 0.7, 0.9, 0.7, 0.9,
                    0.7, 0.65, 0.9, 0.6, 0.7, 0.95, 0.6, 0.8, 0.8, 0.55,
                    0.7, 0.5, 0.7, 0.5, 1.1, 0.5, 0.45, 0.75, 0.5, 1.5,
                    0.45, 0.35]
morph_mae_te = [8.0, 5.2, 8.0, 4.6, 4.9, 3.9, 4.5, 4.0, 4.4, 3.5, 4.5, 8.7, 3.6, 3.3,
                4.8, 3.4, 5.2, 4.1, 3.4, 4.6, 3.9, 4.2, 3.3, 3.1,
                3.5, 3.2, 3.4, 3.3, 3.1, 3.2, 4.7, 3.1, 3.3, 3.0,
                3.5, 2.9, 3.1, 4.5, 2.9, 3.0, 2.9, 4.1, 3.0, 2.9,
                3.9, 3.0, 3.6, 2.8, 2.9, 3.3, 2.9, 3.2, 2.85, 3.3,
                2.9, 2.8, 2.8, 2.8, 3.0, 3.1, 2.8, 3.1, 3.0, 2.8,
                2.9, 2.8, 2.85, 2.8, 3.2, 2.8, 2.75, 2.9, 2.8, 3.4,
                2.8, 2.8]
morph_mae_iot_te = [5.4, 4.3, 4.7, 3.8, 3.8, 3.6, 3.7, 3.9, 3.6, 3.4, 3.6, 4.1, 3.3, 3.3,
                    3.5, 3.2, 3.4, 3.3, 3.2, 3.4, 3.2, 3.3, 3.1, 3.05,
                    3.1, 3.0, 3.05, 3.0, 3.0, 3.0, 3.3, 2.95, 2.95, 2.95,
                    3.0, 2.9, 2.9, 3.3, 2.9, 2.9, 2.85, 3.0, 2.85, 2.85,
                    2.9, 2.85, 2.9, 2.8, 2.85, 2.9, 2.85, 2.85, 2.8, 2.9,
                    2.8, 2.8, 2.8, 2.8, 2.85, 2.85, 2.8, 2.85, 2.8, 2.8,
                    2.8, 2.8, 2.8, 2.75, 2.9, 2.75, 2.75, 2.8, 2.75, 3.0,
                    2.8, 2.75]

morph_rmse_tr = [6.9, 5.8, 6.1, 4.9, 5.3, 4.7, 5.2, 4.4, 5.0, 4.0, 5.1, 5.5, 3.9, 3.8,
                 5.4, 3.7, 5.7, 3.5, 3.3, 4.6, 3.2, 4.1, 2.8, 3.2,
                 2.5, 2.9, 2.3, 2.9, 2.1, 2.3, 4.5, 2.0, 3.0, 1.9,
                 3.5, 1.8, 2.0, 4.4, 1.6, 1.8, 1.7, 3.7, 1.7, 1.6,
                 3.4, 1.5, 3.4, 1.3, 1.4, 2.3, 1.3, 2.0, 1.2, 2.3,
                 1.1, 1.1, 1.7, 1.0, 1.3, 2.3, 1.1, 1.7, 1.5, 1.0,
                 1.3, 0.9, 1.3, 0.9, 1.6, 0.85, 0.8, 1.3, 0.9, 2.2,
                 0.8, 0.65]
morph_rmse_iot_tr = [6.8, 5.4, 5.8, 4.6, 4.8, 4.4, 4.7, 4.1, 4.4, 3.8, 4.4, 4.7, 3.7, 3.6,
                     4.1, 3.4, 3.7, 3.1, 2.9, 3.1, 2.7, 2.7, 2.4, 2.4,
                     2.2, 2.2, 2.0, 2.0, 1.8, 1.85, 2.9, 1.7, 1.9, 1.5,
                     1.8, 1.5, 1.5, 2.4, 1.3, 1.3, 1.3, 1.8, 1.3, 1.2,
                     1.7, 1.2, 1.7, 1.1, 1.1, 1.4, 1.0, 1.3, 1.0, 1.3,
                     0.95, 0.9, 1.2, 0.85, 1.0, 1.4, 0.85, 1.1, 1.1, 0.8,
                     1.0, 0.75, 1.0, 0.75, 1.4, 0.75, 0.7, 1.0, 0.75, 1.7,
                     0.7, 0.6]
morph_rmse_te = [9.7, 6.0, 10.0, 5.6, 6.1, 4.8, 5.5, 4.9, 5.3, 4.4, 5.5, 10.2, 4.5, 4.3,
                 6.3, 4.5, 6.5, 5.0, 4.5, 5.8, 4.9, 5.3, 4.4, 4.2,
                 4.6, 4.2, 4.5, 4.3, 4.1, 4.4, 5.9, 4.1, 4.4, 4.0,
                 5.4, 4.0, 4.1, 5.9, 4.0, 4.0, 4.1, 5.6, 4.1, 4.3,
                 5.0, 4.0, 5.3, 3.9, 4.0, 4.6, 4.0, 4.3, 4.0, 4.3,
                 3.9, 3.9, 4.2, 3.9, 4.0, 4.5, 3.9, 4.3, 4.1, 3.9,
                 4.0, 3.9, 3.95, 3.85, 4.3, 3.9, 3.85, 4.0, 3.9, 4.5,
                 3.9, 3.9]
morph_rmse_iot_te = [6.9, 5.6, 6.0, 5.1, 5.1, 4.8, 5.0, 4.9, 4.9, 4.5, 4.8, 5.4, 4.4, 4.3,
                     4.6, 4.3, 4.5, 4.3, 4.2, 4.5, 4.2, 4.3, 4.15, 4.1,
                     4.2, 4.05, 4.1, 4.0, 4.0, 4.05, 4.6, 3.95, 4.0, 3.95,
                     4.1, 3.95, 3.9, 4.5, 3.9, 3.95, 3.9, 4.1, 3.9, 3.95,
                     4.0, 3.9, 4.1, 3.85, 3.9, 4.0, 3.9, 3.95, 3.9, 3.95,
                     3.85, 3.85, 3.9, 3.85, 3.9, 4.0, 3.85, 3.9, 3.9, 3.85,
                     3.9, 3.85, 3.85, 3.8, 4.2, 3.8, 3.8, 3.85, 3.8, 4.3,
                     3.85, 3.8]

# ---------------- CACD ----------------
cacd_mae_tr = [7.5, 7.2, 7.0, 6.5, 6.2, 6.1, 5.8, 5.6, 5.5, 5.4, 5.6, 5.8, 5.3, 5.0,
               6.6, 5.8, 4.5, 5.3, 4.1, 4.3, 3.9, 3.7, 3.3, 4.8,
               3.2, 4.0, 2.8, 3.0, 3.9, 2.9, 2.6, 2.5, 2.7, 2.2,
               2.3, 2.6, 3.6, 2.1, 2.2, 2.6, 2.0, 2.3, 1.8, 2.0,
               2.7, 2.0, 4.6, 1.8, 1.7, 2.0, 2.6, 1.7, 3.3, 1.6,
               1.9, 3.3, 1.6, 1.9, 3.0, 1.5, 1.7, 2.6, 1.5, 1.6,
               2.4, 1.4, 1.5, 3.2, 1.4, 2.2, 1.3, 1.6, 1.3, 1.7,
               1.3, 1.5]
cacd_mae_iot_tr = [7.5, 7.0, 6.8, 6.3, 6.0, 5.8, 5.6, 5.4, 5.3, 5.2, 5.3, 5.4, 5.1, 4.9,
                   5.5, 4.8, 4.4, 4.4, 3.9, 4.0, 3.6, 3.5, 3.2, 4.2,
                   3.0, 3.5, 2.7, 2.8, 3.4, 2.7, 2.5, 2.4, 2.5, 2.1,
                   2.2, 2.4, 3.2, 2.0, 2.1, 2.4, 1.9, 2.1, 1.7, 1.9,
                   2.5, 1.9, 4.0, 1.7, 1.6, 1.9, 2.4, 1.6, 2.9, 1.5,
                   1.8, 2.9, 1.5, 1.8, 2.7, 1.4, 1.6, 2.4, 1.4, 1.5,
                   2.2, 1.35, 1.4, 2.8, 1.35, 2.0, 1.25, 1.5, 1.25, 1.6,
                   1.25, 1.4]
cacd_mae_te = [7.5, 8.6, 9.1, 7.4, 7.1, 6.6, 6.2, 6.0, 6.0, 5.7, 6.1, 6.3, 5.8, 5.9,
               7.0, 6.6, 5.8, 6.5, 5.8, 6.0, 5.9, 5.7, 5.6, 6.7,
               5.6, 6.3, 5.6, 5.7, 6.4, 5.7, 5.6, 5.5, 5.7, 5.4,
               5.5, 5.6, 6.2, 5.4, 5.5, 5.6, 5.4, 5.5, 5.3, 5.4,
               5.7, 5.4, 7.0, 5.4, 5.3, 5.4, 5.7, 5.3, 6.0, 5.3,
               5.4, 6.2, 5.3, 5.4, 5.9, 5.3, 5.4, 5.9, 5.3, 5.4,
               5.7, 5.3, 5.4, 6.2, 5.3, 5.4, 5.3, 5.4, 5.2, 5.4,
               5.3, 5.25]
cacd_mae_iot_te = [7.5, 7.0, 7.0, 6.4, 6.3, 6.1, 6.0, 5.9, 5.8, 5.8, 5.8, 5.8, 5.7, 5.8,
                   6.1, 5.9, 5.7, 5.8, 5.6, 5.6, 5.6, 5.5, 5.5, 5.8,
                   5.5, 5.6, 5.5, 5.5, 5.7, 5.5, 5.4, 5.4, 5.4, 5.35,
                   5.4, 5.4, 5.6, 5.3, 5.35, 5.4, 5.3, 5.35, 5.3, 5.3,
                   5.4, 5.35, 6.3, 5.3, 5.25, 5.3, 5.4, 5.25, 5.5, 5.25,
                   5.3, 5.6, 5.25, 5.3, 5.5, 5.25, 5.3, 5.5, 5.25, 5.3,
                   5.4, 5.25, 5.3, 5.6, 5.25, 5.3, 5.25, 5.3, 5.2, 5.3,
                   5.25, 5.25]

cacd_rmse_tr = [9.5, 9.2, 9.0, 8.5, 8.2, 8.0, 7.7, 7.5, 7.3, 7.2, 7.4, 7.5, 7.1, 6.8,
                8.0, 7.2, 6.3, 6.5, 5.5, 5.9, 5.3, 5.1, 4.6, 6.2,
                4.4, 5.2, 4.0, 4.2, 5.1, 4.0, 3.7, 3.6, 3.8, 3.2,
                3.3, 3.7, 4.8, 3.0, 3.1, 3.6, 2.9, 3.2, 2.6, 2.8,
                3.8, 2.8, 6.5, 2.6, 2.4, 2.8, 3.5, 2.4, 4.6, 2.3,
                2.7, 4.9, 2.3, 2.7, 4.3, 2.2, 2.4, 3.6, 2.1, 2.3,
                3.5, 2.1, 2.2, 4.6, 2.0, 3.2, 2.0, 2.3, 1.9, 2.6,
                1.9, 2.2]
cacd_rmse_iot_tr = [9.5, 9.0, 8.8, 8.3, 8.0, 7.7, 7.5, 7.2, 7.1, 7.0, 7.1, 7.2, 6.9, 6.6,
                    7.3, 6.4, 6.0, 5.7, 5.2, 5.4, 4.9, 4.6, 4.3, 5.6,
                    4.1, 4.7, 3.8, 3.9, 4.6, 3.7, 3.5, 3.4, 3.5, 3.0,
                    3.1, 3.4, 4.3, 2.9, 2.9, 3.3, 2.7, 3.0, 2.5, 2.7,
                    3.5, 2.6, 5.5, 2.5, 2.3, 2.6, 3.2, 2.3, 4.2, 2.2,
                    2.5, 4.4, 2.2, 2.5, 3.9, 2.1, 2.3, 3.3, 2.0, 2.2,
                    3.2, 2.0, 2.1, 4.2, 1.95, 2.9, 1.9, 2.2, 1.9, 2.5,
                    1.85, 2.1]
cacd_rmse_te = [9.5, 10.5, 11.3, 9.2, 9.0, 8.5, 8.2, 8.0, 7.9, 7.7, 8.0, 8.3, 7.8, 7.9,
                9.0, 8.6, 7.8, 8.5, 7.8, 8.0, 8.0, 7.8, 7.7, 9.0,
                7.7, 8.3, 7.7, 7.8, 8.6, 7.8, 7.7, 7.6, 7.8, 7.5,
                7.6, 7.7, 8.3, 7.5, 7.6, 7.7, 7.5, 7.6, 7.4, 7.5,
                7.9, 7.5, 9.4, 7.5, 7.4, 7.5, 7.9, 7.4, 8.3, 7.4,
                7.5, 8.5, 7.4, 7.5, 8.1, 7.4, 7.5, 8.1, 7.4, 7.5,
                7.8, 7.4, 7.5, 8.5, 7.4, 7.5, 7.4, 7.5, 7.4, 7.7,
                7.4, 7.5]
cacd_rmse_iot_te = [9.5, 9.0, 8.8, 8.3, 8.1, 7.9, 7.8, 7.7, 7.6, 7.6, 7.7, 7.7, 7.6, 7.6,
                    7.9, 7.8, 7.6, 7.7, 7.6, 7.6, 7.6, 7.55, 7.5, 7.7,
                    7.5, 7.6, 7.5, 7.5, 7.8, 7.5, 7.5, 7.45, 7.5, 7.45,
                    7.5, 7.5, 7.7, 7.45, 7.5, 7.5, 7.45, 7.5, 7.4, 7.45,
                    7.6, 7.45, 8.5, 7.45, 7.4, 7.45, 7.6, 7.4, 7.8, 7.4,
                    7.45, 7.9, 7.4, 7.45, 7.7, 7.4, 7.45, 7.7, 7.4, 7.45,
                    7.6, 7.4, 7.45, 7.9, 7.4, 7.45, 7.4, 7.45, 7.4, 7.6,
                    7.4, 7.5]

# ---------------- AFAD ----------------
afad_mae_tr = [4.1, 3.9, 3.75, 3.6, 3.55, 3.5, 3.45, 3.4, 3.5, 3.45, 3.2, 3.1, 3.05, 3.0,
               2.95, 2.75, 2.65, 2.45, 2.3, 2.2, 2.0, 1.95, 1.75, 1.65,
               1.55, 1.45, 1.4, 1.5, 1.25, 1.15, 1.12, 1.1, 1.05, 1.0,
               0.98, 0.97, 0.95, 0.92, 0.9, 0.85, 1.05, 0.85, 0.8, 0.78,
               0.75, 0.85, 0.7, 0.7, 1.4, 0.7, 0.8, 0.6, 0.8, 0.6,
               0.8, 0.55, 0.65, 0.55, 1.0, 0.65, 0.6, 0.75, 0.6, 0.7,
               0.55, 0.6, 0.55, 0.7, 0.55, 0.5, 0.6, 0.5, 0.85, 0.6,
               0.45, 0.5]
afad_mae_iot_tr = [4.1, 3.9, 3.7, 3.55, 3.45, 3.4, 3.35, 3.3, 3.3, 3.25, 3.15, 3.05, 3.0, 2.95,
                   2.9, 2.7, 2.55, 2.4, 2.2, 2.1, 1.95, 1.85, 1.7, 1.6,
                   1.5, 1.42, 1.38, 1.35, 1.22, 1.13, 1.1, 1.07, 1.03, 0.98,
                   0.96, 0.95, 0.93, 0.9, 0.88, 0.83, 0.98, 0.82, 0.78, 0.76,
                   0.73, 0.8, 0.68, 0.68, 1.25, 0.68, 0.75, 0.58, 0.78, 0.58,
                   0.78, 0.53, 0.62, 0.53, 1.0, 0.62, 0.58, 0.72, 0.58, 0.68,
                   0.53, 0.58, 0.53, 0.68, 0.52, 0.48, 0.58, 0.48, 0.8, 0.58,
                   0.4, 0.45]
afad_mae_te = [4.1, 3.9, 3.75, 3.7, 3.8, 3.5, 3.75, 3.6, 3.45, 3.7, 3.4, 3.55, 3.45, 3.4,
               3.5, 3.55, 3.45, 3.65, 3.5, 3.6, 3.5, 3.55, 3.7, 3.55,
               3.55, 3.5, 3.5, 3.6, 3.5, 3.45, 3.45, 3.45, 3.42, 3.45,
               3.42, 3.45, 3.42, 3.42, 3.4, 3.4, 3.45, 3.4, 3.4, 3.4,
               3.4, 3.42, 3.42, 3.4, 3.55, 3.42, 3.4, 3.45, 3.42, 3.4,
               3.45, 3.4, 3.45, 3.42, 3.45, 3.45, 3.5, 3.45, 3.5, 3.45,
               3.5, 3.45, 3.45, 3.5, 3.45, 3.45, 3.4, 3.45, 3.55, 3.45,
               3.5, 3.45]
afad_mae_iot_te = [4.1, 3.9, 3.7, 3.6, 3.55, 3.5, 3.55, 3.5, 3.45, 3.5, 3.4, 3.4, 3.38, 3.38,
                   3.4, 3.42, 3.45, 3.47, 3.48, 3.5, 3.5, 3.5, 3.5, 3.5,
                   3.48, 3.48, 3.47, 3.48, 3.46, 3.45, 3.44, 3.43, 3.42, 3.42,
                   3.42, 3.41, 3.4, 3.4, 3.4, 3.4, 3.4, 3.39, 3.38, 3.39,
                   3.38, 3.4, 3.4, 3.39, 3.5, 3.4, 3.38, 3.42, 3.4, 3.38,
                   3.42, 3.4, 3.43, 3.41, 3.43, 3.43, 3.48, 3.43, 3.48, 3.42,
                   3.47, 3.43, 3.42, 3.48, 3.43, 3.44, 3.4, 3.45, 3.52, 3.43,
                   3.48, 3.42]

afad_rmse_tr = [5.3, 5.0, 4.8, 4.7, 4.6, 4.5, 4.45, 4.4, 4.8, 4.6, 4.2, 4.1, 4.05, 4.0,
                3.9, 3.6, 3.45, 3.15, 3.0, 2.75, 2.55, 2.6, 2.4, 2.15,
                1.95, 1.85, 1.8, 1.95, 1.6, 1.5, 1.48, 1.45, 1.4, 1.35,
                1.32, 1.3, 1.3, 1.2, 1.2, 1.15, 1.45, 1.15, 1.1, 1.1,
                1.05, 1.25, 0.95, 1.05, 2.05, 1.0, 1.15, 0.95, 1.25, 0.95,
                1.25, 0.9, 1.0, 0.95, 1.65, 1.0, 0.95, 1.15, 0.95, 1.1,
                0.9, 1.0, 0.9, 1.1, 0.85, 0.85, 1.0, 0.8, 1.35, 0.9,
                0.7, 0.8]
afad_rmse_iot_tr = [5.3, 5.0, 4.75, 4.6, 4.5, 4.4, 4.35, 4.3, 4.3, 4.2, 4.1, 4.0, 3.95, 3.9,
                    3.8, 3.5, 3.35, 3.1, 2.9, 2.7, 2.5, 2.45, 2.3, 2.05,
                    1.9, 1.8, 1.75, 1.8, 1.55, 1.48, 1.45, 1.42, 1.38, 1.32,
                    1.3, 1.28, 1.25, 1.18, 1.18, 1.12, 1.35, 1.12, 1.08, 1.08,
                    1.02, 1.2, 0.92, 1.02, 1.85, 0.98, 1.12, 0.92, 1.2, 0.92,
                    1.2, 0.88, 0.98, 0.92, 1.6, 0.98, 0.92, 1.1, 0.92, 1.05,
                    0.88, 0.98, 0.88, 1.08, 0.82, 0.82, 0.98, 0.78, 1.3, 0.88,
                    0.68, 0.78]
afad_rmse_te = [5.3, 5.1, 4.9, 4.8, 5.0, 4.7, 5.1, 4.8, 4.6, 5.1, 4.7, 4.6, 4.7, 4.6,
                4.8, 4.7, 4.9, 4.8, 4.9, 4.85, 4.8, 4.9, 4.8, 4.85,
                4.75, 4.8, 4.75, 4.75, 4.7, 4.7, 4.7, 4.65, 4.7, 4.65,
                4.7, 4.65, 4.7, 4.65, 4.65, 4.7, 4.65, 4.7, 4.65, 4.65,
                4.65, 4.7, 4.65, 4.7, 4.9, 4.7, 4.75, 4.7, 4.75, 4.7,
                4.75, 4.8, 4.75, 4.8, 4.75, 4.8, 4.75, 4.85, 4.8, 4.85,
                4.8, 4.85, 4.8, 4.85, 4.8, 4.85, 4.8, 4.85, 5.0, 4.85,
                4.8, 4.8]
afad_rmse_iot_te = [5.3, 5.0, 4.85, 4.75, 4.7, 4.65, 4.7, 4.6, 4.55, 4.55, 4.55, 4.55, 4.55, 4.6,
                    4.65, 4.7, 4.7, 4.72, 4.72, 4.75, 4.72, 4.75, 4.72, 4.7,
                    4.7, 4.7, 4.68, 4.68, 4.67, 4.65, 4.65, 4.62, 4.65, 4.63,
                    4.65, 4.63, 4.65, 4.62, 4.63, 4.65, 4.62, 4.65, 4.62, 4.63,
                    4.63, 4.65, 4.63, 4.65, 4.8, 4.67, 4.7, 4.68, 4.72, 4.68,
                    4.72, 4.75, 4.72, 4.77, 4.73, 4.78, 4.73, 4.82, 4.77, 4.82,
                    4.78, 4.82, 4.78, 4.82, 4.78, 4.82, 4.78, 4.82, 4.95, 4.82,
                    4.78, 4.75]

series_labels = ["MT,ST, training", "LB, training", "IOT, training",
                 "MT,ST, test", "LB, test", "IOT, test"]
series_colors = ["#ff0000", "#008000", "#0000ff", "#00bfbf", "#ffd700", "#bf00bf"]
series_styles = ["-", "--", "-", "-", "--", "-"]

W, H = 1042, 1243

# title, epochs, (MT/ST tr, LB tr, IOT tr, MT/ST te, LB te, IOT te), pixel box (left, top, right, bottom)
panels = [
    ("LEV, MAE", lev_ep, (lev_mae_tr, lev_mae_lb_tr, lev_mae_iot_tr, lev_mae_te, lev_mae_te, lev_mae_iot_te), (27, 3, 507, 134)),
    ("LEV, RMSE", lev_ep, (lev_rmse_tr, lev_rmse_lb_tr, lev_rmse_iot_tr, lev_rmse_te, lev_rmse_lb_te, lev_rmse_iot_te), (557, 3, 1035, 134)),
    ("ERA, MAE", era_ep, (era_mae_tr, era_mae_lb_tr, era_mae_iot_tr, era_mae_te, era_mae_te, era_mae_iot_te), (27, 155, 507, 286)),
    ("ERA, RMSE", era_ep, (era_rmse_tr, era_rmse_lb_tr, era_rmse_iot_tr, era_rmse_te, era_rmse_lb_te, era_rmse_iot_te), (557, 155, 1036, 286)),
    ("SWD, MAE", swd_ep, (swd_mae_tr, swd_mae_tr, swd_mae_iot_tr, swd_mae_te, swd_mae_te, swd_mae_iot_te), (31, 305, 507, 436)),
    ("SWD, RMSE", swd_ep, (swd_rmse_tr, swd_rmse_lb_tr, swd_rmse_iot_tr, swd_rmse_te, swd_rmse_lb_te, swd_rmse_iot_te), (569, 305, 1046, 436)),
    ("WQR, MAE", wqr_ep, (wqr_mae_tr, wqr_mae_tr, wqr_mae_iot_tr, wqr_mae_te, wqr_mae_te, wqr_mae_iot_te), (31, 458, 507, 588)),
    ("WQR, RMSE", wqr_ep, (wqr_rmse_tr, wqr_rmse_lb_tr, wqr_rmse_iot_tr, wqr_rmse_te, wqr_rmse_lb_te, wqr_rmse_iot_te), (563, 458, 1035, 588)),
    ("CAR, MAE", car_ep, (car_mae_tr, car_mae_tr, car_mae_iot_tr, car_mae_te, car_mae_te, car_mae_iot_te), (33, 609, 512, 739)),
    ("CAR, RMSE", car_ep, (car_rmse_tr, car_rmse_lb_tr, car_rmse_iot_tr, car_rmse_te, car_rmse_lb_te, car_rmse_iot_te), (560, 609, 1040, 739)),
    ("MORPH-2, MAE", face_ep, (morph_mae_tr, morph_mae_tr, morph_mae_iot_tr, morph_mae_te, morph_mae_te, morph_mae_iot_te), (19, 761, 510, 891)),
    ("MORPH-2, RMSE", face_ep, (morph_rmse_tr, morph_rmse_tr, morph_rmse_iot_tr, morph_rmse_te, morph_rmse_te, morph_rmse_iot_te), (557, 761, 1040, 891)),
    ("CACD, MAE", face_ep, (cacd_mae_tr, cacd_mae_tr, cacd_mae_iot_tr, cacd_mae_te, cacd_mae_te, cacd_mae_iot_te), (19, 911, 508, 1041)),
    ("CACD, RMSE", face_ep, (cacd_rmse_tr, cacd_rmse_tr, cacd_rmse_iot_tr, cacd_rmse_te, cacd_rmse_te, cacd_rmse_iot_te), (557, 911, 1040, 1041)),
    ("AFAD, MAE", face_ep, (afad_mae_tr, afad_mae_tr, afad_mae_iot_tr, afad_mae_te, afad_mae_te, afad_mae_iot_te), (19, 1062, 508, 1193)),
    ("AFAD, RMSE", face_ep, (afad_rmse_tr, afad_rmse_tr, afad_rmse_iot_tr, afad_rmse_te, afad_rmse_te, afad_rmse_iot_te), (548, 1062, 1040, 1193)),
]

fig = plt.figure(figsize=(W / 100, H / 100), dpi=100)

for title, ep, curves, (l, t, r, b) in panels:
    ax = fig.add_axes([l / W, 1 - b / H, (r - l) / W, (b - t) / H])
    for vals, col, ls in zip(curves, series_colors, series_styles):
        if len(vals) != len(ep):
            raise ValueError(f"{title}: {len(vals)} values for {len(ep)} epochs")
        ax.plot(ep, vals, color=col, linestyle=ls, linewidth=1.2)
    ax.margins(x=0.01)
    ax.set_xticks([0, 25, 50, 75, 100, 125, 150, 175, 200])
    ax.yaxis.set_major_locator(MaxNLocator(nbins=8, steps=[1, 2, 2.5, 5, 10]))
    ax.grid(True, color="#dcdcdc", linewidth=0.8)
    ax.set_axisbelow(True)
    for sp in ax.spines.values():
        sp.set_color("#a8a8a8")
        sp.set_linewidth(0.9)
    ax.tick_params(labelsize=6.8, length=3, width=0.6, color="#a8a8a8",
                   labelcolor="#262626", pad=2)
    ax.text(0.5, 0.985, title, transform=ax.transAxes, ha="center", va="top",
            fontsize=8.7, color="#1a1a1a")

handles = [Line2D([], [], color=c, linestyle=s, linewidth=2.6)
           for c, s in zip(series_colors, series_styles)]
fig.legend(handles, series_labels, loc="center",
           bbox_to_anchor=(27 / W, 1 - 1239 / H, 990 / W, 23 / H),
           ncol=6, mode="expand", fontsize=12, frameon=True, fancybox=False,
           edgecolor="#a8a8a8", handlelength=2.0, handletextpad=0.5,
           borderaxespad=0, borderpad=0.25)

fig.savefig("out.png", dpi=100)
